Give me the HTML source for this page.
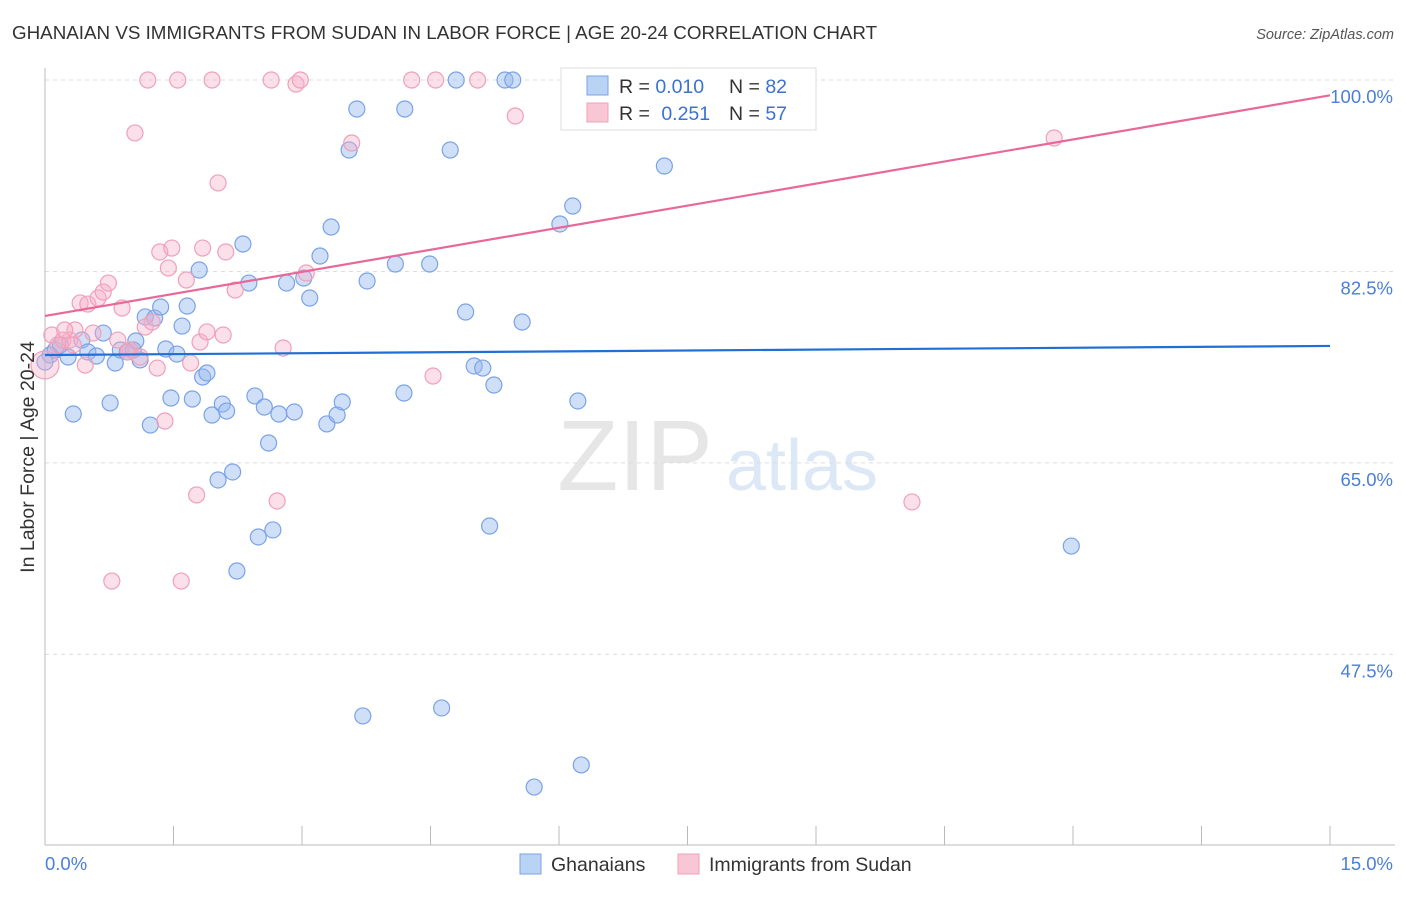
<!DOCTYPE html>
<html><head><meta charset="utf-8"><style>
body{margin:0;background:#fff;font-family:"Liberation Sans",sans-serif;}
svg text{font-family:"Liberation Sans",sans-serif;}
</style></head><body>
<svg id="chart" width="1406" height="892">
<text x="12" y="39" font-size="18.8" fill="#333">GHANAIAN VS IMMIGRANTS FROM SUDAN IN LABOR FORCE | AGE 20-24 CORRELATION CHART</text>
<text x="1394" y="39" font-size="14.5" fill="#555" text-anchor="end" font-style="italic">Source: ZipAtlas.com</text>
<text x="635" y="490" font-size="100" fill="#e6e6e6" text-anchor="middle" font-family="Liberation Serif">ZIP</text>
<text x="802" y="490" font-size="72" fill="#dde8f6" text-anchor="middle">atlas</text>
<g id="grid"></g><g id="axes"></g><g id="pts"></g><g id="trend"></g>
<text transform="translate(34,457) rotate(-90)" font-size="19.5" fill="#333" text-anchor="middle">In Labor Force | Age 20-24</text>
<text x="45" y="870" font-size="18.5" fill="#4a7fd6">0.0%</text>
<text x="1393" y="870" font-size="18.5" fill="#4a7fd6" text-anchor="end">15.0%</text>
<g>
<rect x="561" y="68" width="255" height="62" fill="#fff" stroke="#ddd"/>
<rect x="587" y="76" width="21" height="19" fill="#b9d3f5" stroke="#7aa3e5"/>
<rect x="587" y="103" width="21" height="19" fill="#f9c6d5" stroke="#f0a0b8"/>
<text x="619" y="93" font-size="19.5" fill="#333">R = <tspan fill="#3a72d0">0.010</tspan></text>
<text x="729" y="93" font-size="19.5" fill="#333">N = <tspan fill="#3a72d0">82</tspan></text>
<text x="619" y="120" font-size="19.5" fill="#333">R = <tspan fill="#3a72d0" dx="6">0.251</tspan></text>
<text x="729" y="120" font-size="19.5" fill="#333">N = <tspan fill="#3a72d0">57</tspan></text>
</g>
<g>
<rect x="520" y="854" width="21" height="20" fill="#b9d3f5" stroke="#7aa3e5"/>
<text x="551" y="871" font-size="19.5" fill="#333">Ghanaians</text>
<rect x="678" y="854" width="21" height="20" fill="#f9c6d5" stroke="#f0a0b8"/>
<text x="709" y="871" font-size="19.5" fill="#333">Immigrants from Sudan</text>
</g>
</svg>
<script>
const yTicks=[100,82.5,65,47.5];
const yTickLabels=["100.0%","82.5%","65.0%","47.5%"];
const blueX=[0.06,0.12,0.18,0.27,0.33,0.43,0.50,0.60,0.68,0.76,0.82,0.88,0.96,1.03,1.06,1.11,1.17,1.23,1.28,1.35,1.41,1.47,1.54,1.60,1.66,1.72,1.80,1.84,1.89,1.95,2.02,2.07,2.12,2.19,2.31,2.38,2.45,2.49,2.56,2.61,2.66,2.73,2.82,2.91,3.02,3.09,3.21,3.29,3.34,3.41,3.47,3.55,3.64,3.71,3.76,4.09,4.19,4.20,4.49,4.63,4.73,4.80,4.91,5.01,5.11,5.19,5.24,5.37,5.46,5.57,6.01,6.16,6.22,6.26,5.71,7.23,11.98,2.24,0.0];
const blueY=[74.86,75.32,75.78,74.68,69.47,76.23,75.14,74.77,76.87,70.48,74.13,75.32,75.14,75.32,76.14,74.41,78.34,68.46,78.24,79.25,75.41,70.93,74.95,77.51,79.34,70.84,82.63,72.85,73.22,69.38,63.44,70.38,69.74,64.17,85.01,81.44,71.12,58.23,70.11,66.82,58.87,69.47,81.44,69.65,81.90,80.07,83.91,68.56,86.56,69.38,70.57,93.60,97.35,41.87,81.63,83.18,71.39,97.35,83.18,42.60,93.60,100,78.79,73.86,73.67,59.23,72.12,100,100,77.88,86.84,88.48,70.66,37.39,35.37,92.14,57.40,55.12,74.22];
const pinkX=[0.0,0.08,0.15,0.21,0.29,0.35,0.41,0.47,0.50,0.56,0.62,0.68,0.74,0.78,0.85,0.90,0.99,1.05,1.11,1.17,1.20,1.25,1.31,1.34,1.40,1.44,1.48,1.55,1.59,1.65,1.70,1.77,1.81,1.84,1.89,1.95,2.02,2.08,2.11,2.22,2.64,2.71,2.78,2.93,2.98,3.05,3.58,4.28,4.53,4.56,5.05,5.49,10.12,11.78,0.97,0.33,0.23];
const pinkY=[73.95,76.69,75.78,76.23,76.23,77.15,79.62,73.95,79.52,76.87,80.07,80.62,81.44,54.20,76.23,79.16,75.32,95.16,74.68,77.42,100,77.88,73.67,84.28,68.83,82.82,84.64,100,54.20,81.72,74.13,62.07,76.05,84.64,76.97,100,90.59,76.69,84.28,80.80,100,61.52,75.50,99.63,100,82.36,94.24,100,72.94,100,100,96.71,61.43,94.70,75.14,75.78,77.15];
const blueTrend=[74.86,75.69];
const pinkTrend=[78.43,98.6];
const xDomain=[0,15];

const NS="http://www.w3.org/2000/svg";
const X=v=>45+(v-xDomain[0])/(xDomain[1]-xDomain[0])*1285;
const Y=v=>80+(100-v)*10.94;
function mk(tag,attrs,parent){const e=document.createElementNS(NS,tag);for(const k in attrs)e.setAttribute(k,attrs[k]);document.getElementById(parent).appendChild(e);return e;}
yTicks.forEach((t,i)=>{
 const l=mk('line',{x1:45,x2:1395,y1:Y(t),y2:Y(t),stroke:'#ddd','stroke-dasharray':'4,4'},'grid');
 
 
 const tx=mk('text',{x:1393,y:Y(t)+23,'font-size':18.5,fill:'#4a7fd6','text-anchor':'end'},'grid');
 tx.textContent=yTickLabels[i];
 
 
});
const ax=mk('line',{x1:45,x2:1395,y1:845,y2:845,stroke:'#bbb'},'axes');


const ay=mk('line',{x1:45,x2:45,y1:68,y2:845,stroke:'#bbb'},'axes');


for(let i=0;i<=10;i++){
 const t=mk('line',{x1:X(i*1.5),x2:X(i*1.5),y1:826,y2:845,stroke:'#bbb'},'axes');
 
 
}
blueX.forEach((v,i)=>{
 const c=mk('circle',{cx:X(v),cy:Y(blueY[i]),r:8,fill:'rgba(150,185,240,0.45)',stroke:'#7aa3e5','stroke-width':1.2},'pts');
 
 
});
pinkX.forEach((v,i)=>{
 const c=mk('circle',{cx:X(v),cy:Y(pinkY[i]),r:i===0?14:8,fill:'rgba(245,175,200,0.4)',stroke:'#f0a0b8','stroke-width':1.2},'pts');
 
 
});
const bl=mk('line',{x1:X(0),x2:X(15),y1:Y(blueTrend[0]),y2:Y(blueTrend[1]),stroke:'#1f6fd6','stroke-width':2.2},'trend');


const pl=mk('line',{x1:X(0),x2:X(15),y1:Y(pinkTrend[0]),y2:Y(pinkTrend[1]),stroke:'#e8689a','stroke-width':2.2},'trend');


</script>
</body></html>
